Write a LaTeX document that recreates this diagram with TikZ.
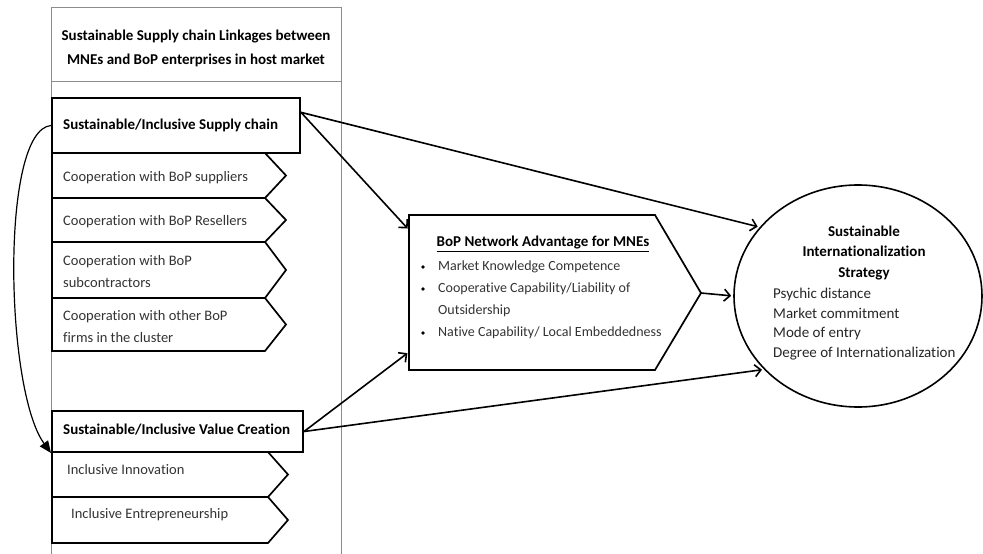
\documentclass[tikz,border=0pt]{standalone}
\usepackage{fontspec}
\setmainfont{Carlito}[Ligatures=CommonOff]
\usetikzlibrary{arrows.meta}
\usetikzlibrary{shapes.geometric}
\tikzset{hd/.style={font=\fontsize{15}{24}\selectfont\bfseries}}
\tikzset{tx/.style={font=\fontsize{14.5}{22}\selectfont, text=black!80}}
\tikzset{sm/.style={font=\fontsize{15}{19.7}\selectfont, text=black!85}}
\tikzset{
frame/.style={draw=black!45, line width=0.8pt},
mainbox/.style={draw, line width=2pt, inner sep=0pt},
chev/.style={draw, line width=1.7pt, line join=miter},
link/.style={-{Straight Barb[length=6pt,width=12pt]}, line width=1.6pt, shorten >=2pt},
loopback/.style={-{Triangle[length=12pt,width=10pt]}, line width=1.2pt}
}

\begin{document}
\begin{tikzpicture}[x=1pt,y=-1pt]
    \useasboundingbox (0,0) rectangle (983,554);
    % outer column
    \draw[frame] (51,554) -- (51,7) -- (341,7) -- (341,554);
    \draw[frame] (51,81) -- (341,81);
    \node[hd, align=center] (linkages) at (196,48) {Sustainable Supply chain Linkages between\\MNEs and BoP enterprises in host market};

    % supply chain part
    \node[mainbox, minimum width=248pt, minimum height=55pt] (supply) at (176,125.5) {};
    \node[hd, anchor=west, inner sep=0pt] (supplytxt) at (63,125) {Sustainable/Inclusive Supply chain};
    \foreach \ya/\yb/\txt [count=\i] in {153/198/{Cooperation with BoP suppliers}, 198/242/{Cooperation with BoP Resellers}, 242/298/{Cooperation with BoP\\subcontractors}, 298/351/{Cooperation with other BoP\\firms in the cluster}}
    {
      \draw[chev] (52,\ya) -- (265,\ya) -- (286,{(\ya+\yb)/2}) -- (265,\yb) -- (52,\yb) -- cycle;
      \node[tx, anchor=west, align=left, inner sep=0pt] (coop\i) at (63,{(\ya+\yb)/2+2}) {\txt};
    }

    % value creation part
    \node[mainbox, minimum width=251pt, minimum height=41pt] (value) at (177.5,431.5) {};
    \node[hd, anchor=west, inner sep=0pt] (valuetxt) at (63,430) {Sustainable/Inclusive Value Creation};
    \draw[chev] (52,452) -- (268,452) -- (288,474.5) -- (268,497) -- (52,497) -- cycle;
    \draw[chev] (52,497) -- (268,497) -- (288,520) -- (268,543) -- (52,543) -- cycle;
    \node[tx, anchor=west, inner sep=0pt] (innov) at (67,470) {Inclusive Innovation};
    \node[tx, anchor=west, inner sep=0pt] (entre) at (71,515) {Inclusive Entrepreneurship};

    % network advantage
    \coordinate (advA) at (409,215);
    \coordinate (advB) at (655,215);
    \coordinate (advtip) at (701,293);
    \coordinate (advC) at (655,370);
    \coordinate (advD) at (409,370);
    \coordinate (advin1) at (409,230);
    \coordinate (advin2) at (409,352);
    \draw[chev] (advA) -- (advB) -- (advtip) -- (advC) -- (advD) -- cycle;
    \node[hd] (advtitle) at (543,244) {\underline{BoP Network Advantage for MNEs}};
    \foreach \y/\txt [count=\i] in {267/{Market Knowledge Competence}, 289/{Cooperative Capability/Liability of}, 333/{Native Capability/ Local Embeddedness}}
    {
      \fill (423,\y) circle (1.8pt);
      \node[tx, font=\fontsize{14}{22}\selectfont, anchor=west, inner sep=0pt] (item\i) at (438,\y) {\txt};
    }
    \node[tx, font=\fontsize{14}{22}\selectfont, anchor=west, inner sep=0pt] (outsider) at (438,311) {Outsidership};

    % strategy
    \node[draw, ellipse, line width=1.6pt, minimum width=248pt, minimum height=222pt] (strat) at (858,296) {};
    \node[hd, align=center, font=\fontsize{15}{20.5}\selectfont\bfseries] (strattitle) at (864,253) {Sustainable\\Internationalization\\Strategy};
    \node[sm, align=left, anchor=west, inner sep=0pt] (stratlist) at (773,324) {Psychic distance\\Market commitment\\Mode of entry\\Degree of Internationalization};

    % links
    \draw[link] (supply.6) -- (strat.145);
    \draw[link] (supply.6) -- (advin1);
    \draw[link] (value.east) -- (advin2);
    \draw[link] (value.east) -- (strat.218);
    \draw[link] (advtip) -- (strat.west);
    \draw[loopback] (supply.west) .. controls (0,130) and (5,390) .. (value.south west);
  \end{tikzpicture}
\end{document}
